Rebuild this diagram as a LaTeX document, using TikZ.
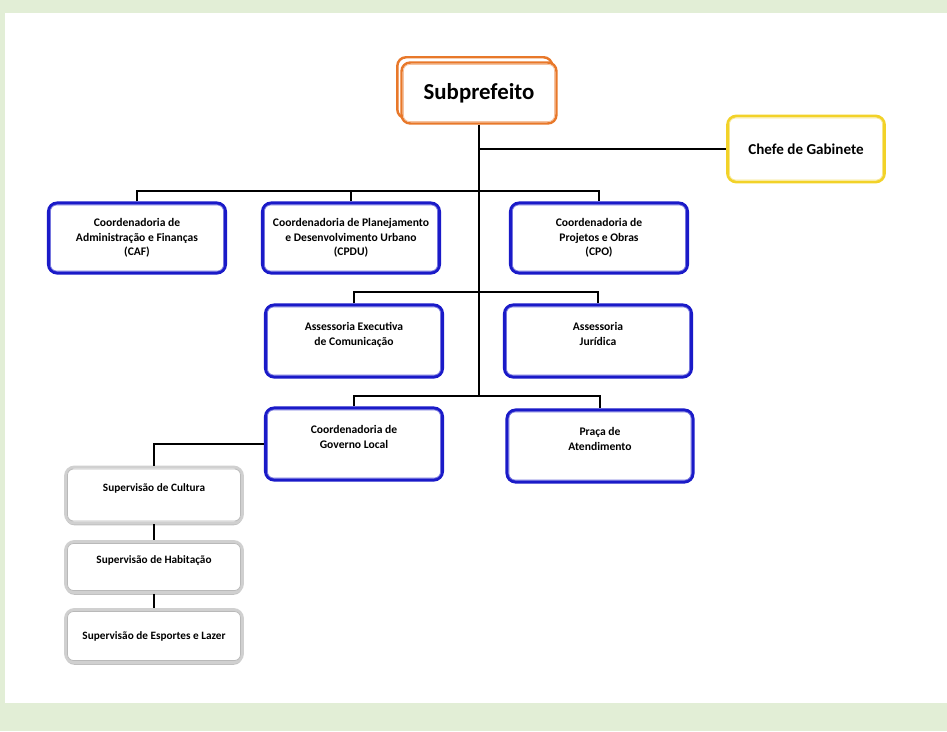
\documentclass[tikz,border=0pt]{standalone}
\usepackage{fontspec}
\setmainfont{Carlito}
\usetikzlibrary{positioning,shadows}
\definecolor{bggreen}{RGB}{226,238,214}
\definecolor{boxblue}{RGB}{26,26,200}
\definecolor{boxorange}{RGB}{232,120,42}
\definecolor{boxyellow}{RGB}{242,210,40}
\definecolor{boxgray}{RGB}{208,208,208}

\begin{document}
\begin{tikzpicture}[x=0.02cm, y=-0.02cm,
  unitbox/.style={rounded corners=5pt, fill=white, align=center, inner sep=2pt},
  subbox/.style={unitbox, draw=boxorange, line width=1.4pt, minimum width=3.1cm, minimum height=1.22cm,
    font=\fontsize{13}{15}\selectfont\bfseries, copy shadow={shadow xshift=-2.4pt, shadow yshift=3pt}},
  chefebox/.style={unitbox, draw=boxyellow, line width=1.6pt, minimum width=3.14cm, minimum height=1.32cm,
    font=\fontsize{8.6}{10}\selectfont\bfseries},
  bluebox/.style={unitbox, draw=boxblue, line width=1.8pt, minimum width=3.54cm, minimum height=1.4cm,
    font=\fontsize{6.6}{8.3}\selectfont\bfseries},
  graybox/.style={unitbox, draw=boxgray, line width=1.6pt, minimum width=3.54cm,
    font=\fontsize{6.4}{8}\selectfont\bfseries,
    drop shadow={shadow xshift=0pt, shadow yshift=-1.3pt, fill=gray!70, opacity=0.7}},
  ring/.style={draw=#1, line width=0.45pt, rounded corners=3.5pt},
  conn/.style={draw=black, line width=1.1pt}]

\fill[bggreen] (0,0) rectangle (947,731);
\fill[white] (5,13) rectangle (947,703);
\useasboundingbox (0,0) rectangle (947,731);

\node[subbox] (sub) at (479,93) {Subprefeito};
\node[chefebox] (chefe) at (806,149) {Chefe de Gabinete};

\node[bluebox] (caf) at (137,238) {Coordenadoria de\\Administração e Finanças\\(CAF)};
\node[bluebox] (cpdu) at (351,238) {Coordenadoria de Planejamento\\e Desenvolvimento Urbano\\(CPDU)};
\node[bluebox] (cpo) at (599,238) {Coordenadoria de\\Projetos e Obras\\(CPO)};

\node[bluebox, minimum height=1.44cm] (acom) at (354,341) {Assessoria Executiva\\de Comunicação\\\mbox{}};
\node[bluebox, minimum height=1.44cm, minimum width=3.74cm] (ajur) at (598,341) {Assessoria\\Jurídica\\\mbox{}};
\node[bluebox, minimum height=1.44cm] (cgl) at (354,444) {Coordenadoria de\\Governo Local\\\mbox{}};
\node[bluebox, minimum height=1.44cm, minimum width=3.72cm] (praca) at (600,446) {Praça de\\Atendimento\\\mbox{}};

\node[graybox, minimum height=1.12cm] (sc) at (154,495) {Supervisão de Cultura\\\mbox{}};
\node[graybox, minimum height=1.02cm] (sh) at (154,567) {Supervisão de Habitação\\\mbox{}};
\node[graybox, minimum height=1.06cm] (se) at (154,636) {Supervisão de Esportes e Lazer};

\draw[ring=boxorange!45] ([shift={(1.8pt,1.8pt)}]sub.south west) rectangle ([shift={(-1.8pt,-1.8pt)}]sub.north east);
\draw[ring=boxyellow!55] ([shift={(1.9pt,1.9pt)}]chefe.south west) rectangle ([shift={(-1.9pt,-1.9pt)}]chefe.north east);
\foreach \n in {caf,cpdu,cpo,acom,ajur,cgl,praca}
  \draw[ring=boxblue!60] ([shift={(2pt,2pt)}]\n.south west) rectangle ([shift={(-2pt,-2pt)}]\n.north east);
\foreach \n in {sc,sh,se}
  \draw[ring=gray!55] ([shift={(1.9pt,1.9pt)}]\n.south west) rectangle ([shift={(-1.9pt,-1.9pt)}]\n.north east);

\coordinate (jc) at (sub.south |- chefe.west);
\coordinate (j1) at (sub.south |- 0,191);
\coordinate (j2) at (sub.south |- 0,292);
\coordinate (j3) at (sub.south |- 0,396);

\draw[conn] (sub) -- (j3);
\draw[conn] (jc) -- (chefe);
\draw[conn] (caf.north) |- (j1) -| (cpo.north);
\draw[conn] (cpdu.north) -- (cpdu.north |- j1);
\draw[conn] (acom.north) |- (j2) -| (ajur.north);
\draw[conn] (cgl.north) |- (j3) -| (praca.north);
\draw[conn] (cgl.west) -| (sc.north);
\draw[conn] (sc) -- (sh);
\draw[conn] (sh) -- (se);
\end{tikzpicture}
\end{document}
